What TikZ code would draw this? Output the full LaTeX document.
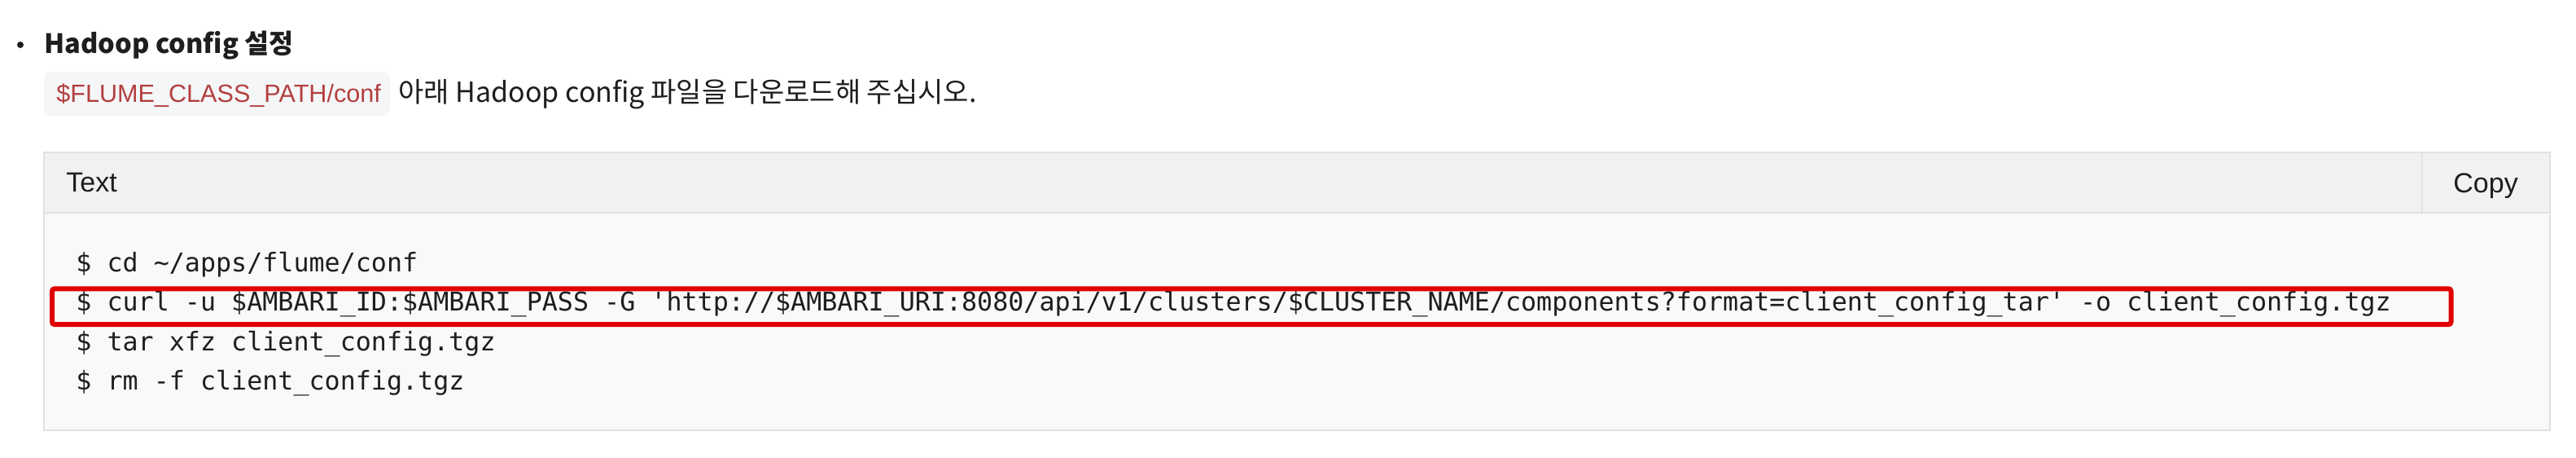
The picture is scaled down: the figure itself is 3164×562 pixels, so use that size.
\documentclass[tikz,border=0pt]{standalone}
\usepackage{fontspec}
\setmainfont{Liberation Sans}
\setmonofont{DejaVu Sans Mono}
\newfontfamily\krfont{Noto Sans CJK KR}
\usetikzlibrary{positioning,calc}

\definecolor{panelline}{HTML}{E1E1E1}
\definecolor{panelhead}{HTML}{F1F1F1}
\definecolor{panelbody}{HTML}{F9F9F9}
\definecolor{pillbg}{HTML}{F5F6F8}
\definecolor{pillred}{HTML}{B3403F}
\definecolor{hired}{HTML}{E20000}
\definecolor{inktext}{HTML}{1E1E1E}

\tikzset{
  codeline/.style={anchor=north west, inner sep=0pt, text height=15pt, text depth=8.75pt,
    font=\ttfamily\fontsize{15.85}{19}\selectfont, text=inktext},
  uitext/.style={anchor=base west, inner sep=0pt, font=\fontsize{17}{20}\selectfont, text=inktext},
  hilite/.style={draw=hired, line width=3pt, rounded corners=1.5pt},
}

\begin{document}
\begin{tikzpicture}[x=0.5pt, y=-0.5pt]
\useasboundingbox[fill=white] (0,0) rectangle (3164,562);
% heading
\fill[inktext] (25,55) circle (2pt);
\node[uitext, font=\krfont\bfseries\fontsize{16.3}{20}\selectfont] (title) at (54,65) {Hadoop config 설정};
% inline path and hint
\fill[pillbg, rounded corners=4pt] (54,88) rectangle (479,142);
\node[uitext, font=\fontsize{15.3}{18}\selectfont, text=pillred] (path) at (69,125) {\$FLUME\_CLASS\_PATH/conf};
\node[uitext, font=\krfont\fontsize{17}{20}\selectfont] (hint) at (489,125) {아래 Hadoop config 파일을 다운로드해 주십시오.};
% code panel
\fill[panelbody] (54,187) rectangle (3132,528);
\fill[panelhead] (54,187) rectangle (3132,261);
\draw[panelline, line width=1pt] (54,187) rectangle (3132,528) (54,261) -- (3132,261) (2975,187) -- (2975,261);
\node[uitext] (lang) at (81,235) {Text};
\node[uitext] (copy) at (3013,236) {Copy};
% code lines
\node[codeline] (cd) at (93,303) {\$ cd \textasciitilde/apps/flume/conf};
\node[codeline] (curl) [below=0pt of cd.south west, anchor=north west] {\$ curl -u \$AMBARI\_ID:\$AMBARI\_PASS -G 'http://\$AMBARI\_URI:8080/api/v1/clusters/\$CLUSTER\_NAME/components?format=client\_config\_tar' -o client\_config.tgz};
\node[codeline] (tar) [below=0pt of curl.south west, anchor=north west] {\$ tar xfz client\_config.tgz};
\node[codeline] (rm) [below=0pt of tar.south west, anchor=north west] {\$ rm -f client\_config.tgz};
% highlight
\draw[hilite] ($(curl.north west)+(-29,3)$) rectangle ($(curl.south east)+(73,-1.5)$);
\end{tikzpicture}
\end{document}
